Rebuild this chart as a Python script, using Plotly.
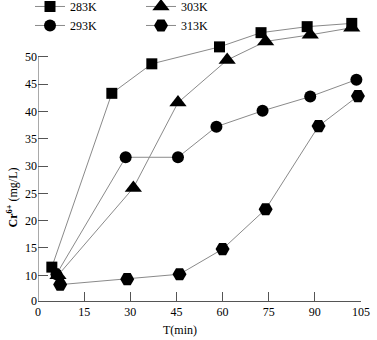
import plotly.graph_objects as go

# ---- data ----
t_283 = [4.5, 24, 37, 59, 72.5, 87.5, 102]
q_283 = [11.5, 43.3, 48.7, 51.8, 54.4, 55.5, 56.1]
t_293 = [6, 28.5, 45.5, 58, 73, 88.5, 103.5]
q_293 = [10.2, 31.6, 31.6, 37.2, 40.1, 42.7, 45.8]
t_303 = [6.5, 31, 45.5, 61.5, 74, 88.5, 102]
q_303 = [10.0, 26.0, 41.6, 49.4, 52.8, 54.0, 55.3]
t_313 = [7.2, 29, 46, 60, 74, 91.2, 104]
q_313 = [8.3, 9.3, 10.2, 14.8, 22.1, 37.3, 42.8]

x_ticks = [0, 15, 30, 45, 60, 75, 90, 105]
y_bottom = 5.3
y_ticks = [y_bottom, 10, 15, 20, 25, 30, 35, 40, 45, 50]
y_ticktext = ["0", "10", "15", "20", "25", "30", "35", "40", "45", "50"]

FONT = "Liberation Serif, Times New Roman, serif"
LINE = "#8a8a8a"

series = [
    ("283K", t_283, q_283, "square", 11, "legend"),
    ("293K", t_293, q_293, "circle", 12, "legend"),
    ("303K", t_303, q_303, "triangle-up", 15, "legend2"),
    ("313K", t_313, q_313, "hexagon2", 14, "legend2"),
]

fig = go.Figure()
for name, xs, ys, sym, sz, lg in series:
    fig.add_trace(go.Scatter(
        x=xs, y=ys, name=name, mode="lines+markers",
        line=dict(color=LINE, width=1),
        marker=dict(symbol=sym, size=sz, color="black"),
        cliponaxis=False, legend=lg,
    ))

legend_common = dict(
    xanchor="left", yanchor="top", bgcolor="rgba(0,0,0,0)",
    yref="paper",
    font=dict(family=FONT, size=12, color="black"),
    orientation="v", tracegroupgap=0, itemwidth=30,
)

fig.update_layout(
    width=377, height=340,
    margin=dict(l=38, r=16, t=13, b=39, autoexpand=False),
    paper_bgcolor="white", plot_bgcolor="white",
    font=dict(family=FONT, size=12, color="black"),
    showlegend=True,
    legend=dict(x=-8 / 323, y=1.073, **legend_common),
    legend2=dict(x=103 / 323, y=1.073, **legend_common),
    xaxis=dict(
        range=[0, 105], tickvals=x_ticks, ticks="inside", ticklen=9,
        tickcolor="#555", showline=True, linecolor="#555", linewidth=1,
        showgrid=False, zeroline=False, tickfont=dict(family=FONT, size=12),
        automargin=False,
    ),
    yaxis=dict(
        range=[y_bottom, 58], tickvals=y_ticks, ticktext=y_ticktext,
        ticks="inside", ticklen=10, tickcolor="#555", showline=False,
        showgrid=False, zeroline=False, tickfont=dict(family=FONT, size=12),
        automargin=False,
    ),
    shapes=[dict(type="line", xref="x", yref="y", x0=0, x1=0,
                 y0=y_bottom, y1=50, line=dict(color="#555", width=1))],
    annotations=[
        dict(text="T(min)", xref="paper", yref="paper", x=0.44, y=-0.10,
             xanchor="center", yanchor="middle",
             showarrow=False, font=dict(family=FONT, size=12)),
        dict(text="<b>Cr<sup>6+</sup></b> (mg/L)", xref="paper", yref="paper",
             x=-0.08, y=0.36, xanchor="center", yanchor="middle",
             textangle=-90, showarrow=False,
             font=dict(family=FONT, size=12)),
    ],
)

fig.write_html("out.html", config={"displayModeBar": False},
               post_script="document.body.style.margin='0px';")
